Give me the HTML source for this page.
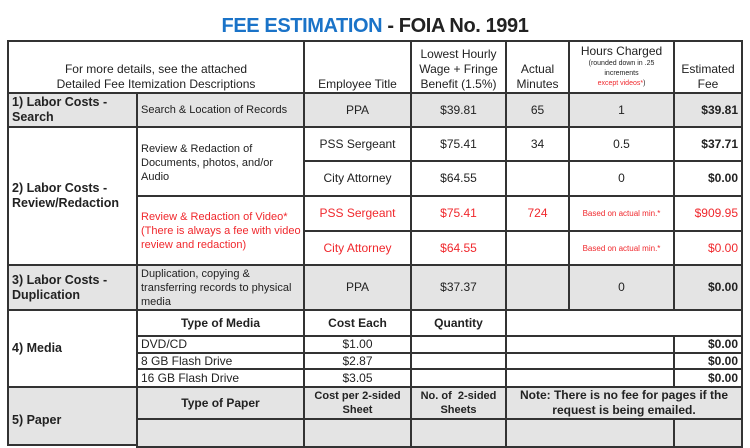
<!DOCTYPE html>
<html><head><meta charset="utf-8"><style>
*{box-sizing:border-box;margin:0;padding:0}
body{width:750px;height:430px;overflow:hidden;background:#fff;position:relative;font-family:"Liberation Sans",Arial,sans-serif;color:#222}
.t{position:absolute;left:0;width:750px;top:15px;text-align:center;font-size:20px;font-weight:bold;letter-spacing:-0.4px}
.c{position:absolute;border:2px solid #333;display:flex;align-items:center;justify-content:center;text-align:center;font-size:12px;line-height:15px;overflow:hidden}
.g{background:#e4e4e4}
.l{justify-content:flex-start;text-align:left;padding-left:3px}
.r{justify-content:flex-end;text-align:right;padding-right:3px}
.b{font-weight:bold}
.red{color:#f0282d}
.s11{font-size:11px;line-height:14px}
</style></head><body>
<div class="t"><span style="color:#1a73c8">FEE ESTIMATION</span> - FOIA No. 1991</div>

<!-- header -->
<div class="c" style="left:7px;top:40px;width:298px;height:54px;align-items:flex-end;padding-bottom:0px">For more details, see the attached<br>Detailed Fee Itemization Descriptions</div>
<div class="c" style="left:303px;top:40px;width:109px;height:54px;align-items:flex-end;padding-bottom:0px">Employee Title</div>
<div class="c" style="left:410px;top:40px;width:97px;height:54px;align-items:flex-end;padding-bottom:0px">Lowest Hourly<br>Wage + Fringe<br>Benefit (1.5%)</div>
<div class="c" style="left:505px;top:40px;width:65px;height:54px;align-items:flex-end;padding-bottom:0px">Actual<br>Minutes</div>
<div class="c" style="left:568px;top:40px;width:107px;height:54px;flex-direction:column;padding-bottom:1px"><div>Hours Charged</div><div style="font-size:7px;line-height:10px">(rounded down in .25<br>increments<br><span class="red">except videos*</span>)</div></div>
<div class="c" style="left:673px;top:40px;width:70px;height:54px;align-items:flex-end;padding-bottom:0px">Estimated<br>Fee</div>

<!-- row 1 -->
<div class="c g l b" style="left:7px;top:92px;width:131px;height:36px;font-size:12.5px">1) Labor Costs -<br>Search</div>
<div class="c g l s11" style="left:136px;top:92px;width:169px;height:36px">Search &amp; Location of Records</div>
<div class="c g" style="left:303px;top:92px;width:109px;height:36px">PPA</div>
<div class="c g" style="left:410px;top:92px;width:97px;height:36px">$39.81</div>
<div class="c g" style="left:505px;top:92px;width:65px;height:36px">65</div>
<div class="c g" style="left:568px;top:92px;width:107px;height:36px">1</div>
<div class="c g r b" style="left:673px;top:92px;width:70px;height:36px">$39.81</div>

<!-- row 2 -->
<div class="c l b" style="left:7px;top:126px;width:131px;height:140px;font-size:12.5px">2) Labor Costs -<br>Review/Redaction</div>
<div class="c l s11" style="left:136px;top:126px;width:169px;height:71px;align-items:flex-start;padding-top:14px">Review &amp; Redaction of<br>Documents, photos, and/or<br>Audio</div>
<div class="c" style="left:303px;top:126px;width:109px;height:36px">PSS Sergeant</div>
<div class="c" style="left:410px;top:126px;width:97px;height:36px">$75.41</div>
<div class="c" style="left:505px;top:126px;width:65px;height:36px">34</div>
<div class="c" style="left:568px;top:126px;width:107px;height:36px">0.5</div>
<div class="c r b" style="left:673px;top:126px;width:70px;height:36px">$37.71</div>
<div class="c" style="left:303px;top:160px;width:109px;height:37px">City Attorney</div>
<div class="c" style="left:410px;top:160px;width:97px;height:37px">$64.55</div>
<div class="c" style="left:505px;top:160px;width:65px;height:37px"></div>
<div class="c" style="left:568px;top:160px;width:107px;height:37px">0</div>
<div class="c r b" style="left:673px;top:160px;width:70px;height:37px">$0.00</div>

<div class="c l s11 red" style="left:136px;top:195px;width:169px;height:71px">Review &amp; Redaction of Video*<br>(There is always a fee with video<br>review and redaction)</div>
<div class="c red" style="left:303px;top:195px;width:109px;height:37px">PSS Sergeant</div>
<div class="c red" style="left:410px;top:195px;width:97px;height:37px">$75.41</div>
<div class="c red" style="left:505px;top:195px;width:65px;height:37px">724</div>
<div class="c red" style="left:568px;top:195px;width:107px;height:37px;font-size:8px">Based on actual min.*</div>
<div class="c r red" style="left:673px;top:195px;width:70px;height:37px">$909.95</div>
<div class="c red" style="left:303px;top:230px;width:109px;height:36px">City Attorney</div>
<div class="c red" style="left:410px;top:230px;width:97px;height:36px">$64.55</div>
<div class="c" style="left:505px;top:230px;width:65px;height:36px"></div>
<div class="c red" style="left:568px;top:230px;width:107px;height:36px;font-size:8px">Based on actual min.*</div>
<div class="c r red" style="left:673px;top:230px;width:70px;height:36px">$0.00</div>

<!-- row 3 -->
<div class="c g l b" style="left:7px;top:264px;width:131px;height:47px;font-size:12.5px">3) Labor Costs -<br>Duplication</div>
<div class="c g l s11" style="left:136px;top:264px;width:169px;height:47px">Duplication, copying &amp;<br>transferring records to physical<br>media</div>
<div class="c g" style="left:303px;top:264px;width:109px;height:47px">PPA</div>
<div class="c g" style="left:410px;top:264px;width:97px;height:47px">$37.37</div>
<div class="c g" style="left:505px;top:264px;width:65px;height:47px"></div>
<div class="c g" style="left:568px;top:264px;width:107px;height:47px">0</div>
<div class="c g r b" style="left:673px;top:264px;width:70px;height:47px">$0.00</div>

<!-- row 4 media -->
<div class="c l b" style="left:7px;top:309px;width:131px;height:79px;font-size:12.5px">4) Media</div>
<div class="c b" style="left:136px;top:309px;width:169px;height:28px">Type of Media</div>
<div class="c b" style="left:303px;top:309px;width:109px;height:28px">Cost Each</div>
<div class="c b" style="left:410px;top:309px;width:97px;height:28px">Quantity</div>
<div class="c" style="left:505px;top:309px;width:238px;height:28px"></div>

<div class="c l" style="left:136px;top:335px;width:169px;height:19px">DVD/CD</div>
<div class="c" style="left:303px;top:335px;width:109px;height:19px">$1.00</div>
<div class="c" style="left:410px;top:335px;width:97px;height:19px"></div>
<div class="c" style="left:505px;top:335px;width:170px;height:19px"></div>
<div class="c r b" style="left:673px;top:335px;width:70px;height:19px">$0.00</div>

<div class="c l" style="left:136px;top:352px;width:169px;height:18px">8 GB Flash Drive</div>
<div class="c" style="left:303px;top:352px;width:109px;height:18px">$2.87</div>
<div class="c" style="left:410px;top:352px;width:97px;height:18px"></div>
<div class="c" style="left:505px;top:352px;width:170px;height:18px"></div>
<div class="c r b" style="left:673px;top:352px;width:70px;height:18px">$0.00</div>

<div class="c l" style="left:136px;top:368px;width:169px;height:20px">16 GB Flash Drive</div>
<div class="c" style="left:303px;top:368px;width:109px;height:20px">$3.05</div>
<div class="c" style="left:410px;top:368px;width:97px;height:20px"></div>
<div class="c" style="left:505px;top:368px;width:170px;height:20px"></div>
<div class="c r b" style="left:673px;top:368px;width:70px;height:20px">$0.00</div>

<!-- row 5 paper -->
<div class="c g l b" style="left:7px;top:386px;width:131px;height:60px;font-size:12.5px;align-items:flex-start;padding-top:25px">5) Paper</div>
<div class="c g b" style="left:136px;top:386px;width:169px;height:34px">Type of Paper</div>
<div class="c g b" style="left:303px;top:386px;width:109px;height:34px;font-size:11px;line-height:14px">Cost per 2-sided<br>Sheet</div>
<div class="c g b" style="left:410px;top:386px;width:97px;height:34px;font-size:11px;line-height:14px">No. of &nbsp;2-sided<br>Sheets</div>
<div class="c g b" style="left:505px;top:386px;width:238px;height:34px;line-height:15px">Note: There is no fee for pages if the<br>request is being emailed.</div>
<div class="c g" style="left:136px;top:418px;width:169px;height:30px"></div>
<div class="c g" style="left:303px;top:418px;width:109px;height:30px"></div>
<div class="c g" style="left:410px;top:418px;width:97px;height:30px"></div>
<div class="c g" style="left:505px;top:418px;width:170px;height:30px"></div>
<div class="c g" style="left:673px;top:418px;width:70px;height:30px"></div>
</body></html>
